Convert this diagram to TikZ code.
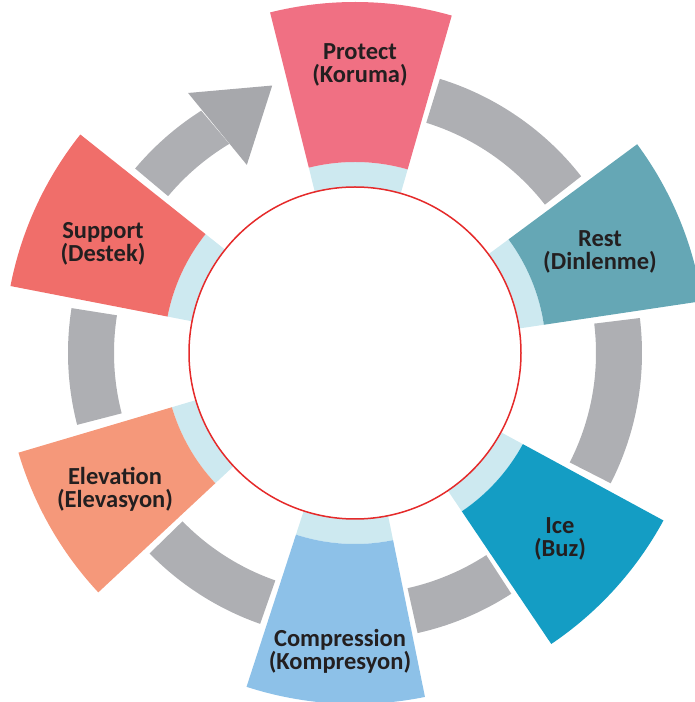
\documentclass[tikz,border=0pt]{standalone}
\usepackage{fontspec}
\setmainfont{Carlito}
\definecolor{cprotect}{HTML}{F07083}
\definecolor{crest}{HTML}{65A7B5}
\definecolor{cice}{HTML}{149DC4}
\definecolor{ccomp}{HTML}{8DC1E8}
\definecolor{celev}{HTML}{F5987A}
\definecolor{csupport}{HTML}{F06E6A}
\definecolor{cring}{HTML}{CDE9F0}
\definecolor{cgray}{HTML}{AEAFB3}
\definecolor{cgrayd}{HTML}{A7A8AC}
\definecolor{cred}{HTML}{E52A2A}
\definecolor{ctxt}{HTML}{231F20}
\tikzset{
  lbl/.style={font=\bfseries\fontsize{24.5}{23}\selectfont, align=center, text=ctxt, inner sep=0pt},
  hub/.style={circle, fill=white, draw=cred, line width=1.5pt, minimum size=332pt, inner sep=0pt},
}
\begin{document}
\begin{tikzpicture}
\useasboundingbox (0,0) rectangle (695pt,702pt);
\clip (0,0) rectangle (695pt,702pt);
\begin{scope}[shift={(355pt,349pt)}]
% coloured sectors with light inner ring
\foreach \a/\b/\c in {74/104/cprotect, 8.5/36.5/crest, -56/-28.5/cice, -108/-78.5/ccomp, 196.5/223/celev, 141.5/169/csupport}{
  \fill[cring] (\a:140pt) arc[start angle=\a, end angle=\b, radius=140pt] -- (\b:191pt) arc[start angle=\b, end angle=\a, radius=191pt] -- cycle;
  \fill[\c] (\a:191pt) arc[start angle=\a, end angle=\b, radius=191pt] -- (\b:351pt) arc[start angle=\b, end angle=\a, radius=351pt] -- cycle;
}
% grey connecting arcs
\foreach \a/\b in {38/72.8, -27/7, -77.4/-57, 224.3/250.7, 171/194.5}{
  \fill[cgray] (\a:241pt) arc[start angle=\a, end angle=\b, radius=241pt] -- (\b:287pt) arc[start angle=\b, end angle=\a, radius=287pt] -- cycle;
}
% grey arrow from Support to Protect
\fill[cgray] (140:287pt) arc[start angle=140, end angle=122.4, radius=287pt] -- (121:244pt) arc[start angle=121, end angle=140, radius=244pt] -- cycle;
\fill[cgrayd] (122.7:309pt) -- (107.2:280pt) -- (119.9:217pt) -- cycle;
% hub
\node[hub] (hub) at (0,0) {};
\end{scope}
\node[lbl] (protect) at (360pt,637pt) {Protect\\(Koruma)};
\node[lbl] (rest) at (600pt,450pt) {Rest\\(Dinlenme)};
\node[lbl] (ice) at (560pt,163pt) {Ice\\(Buz)};
\node[lbl] (comp) at (340pt,51pt) {Compression\\(Kompresyon)};
\node[lbl] (elev) at (115pt,213pt) {Elevation\\(Elevasyon)};
\node[lbl] (support) at (103pt,458pt) {Support\\(Destek)};
\end{tikzpicture}
\end{document}
